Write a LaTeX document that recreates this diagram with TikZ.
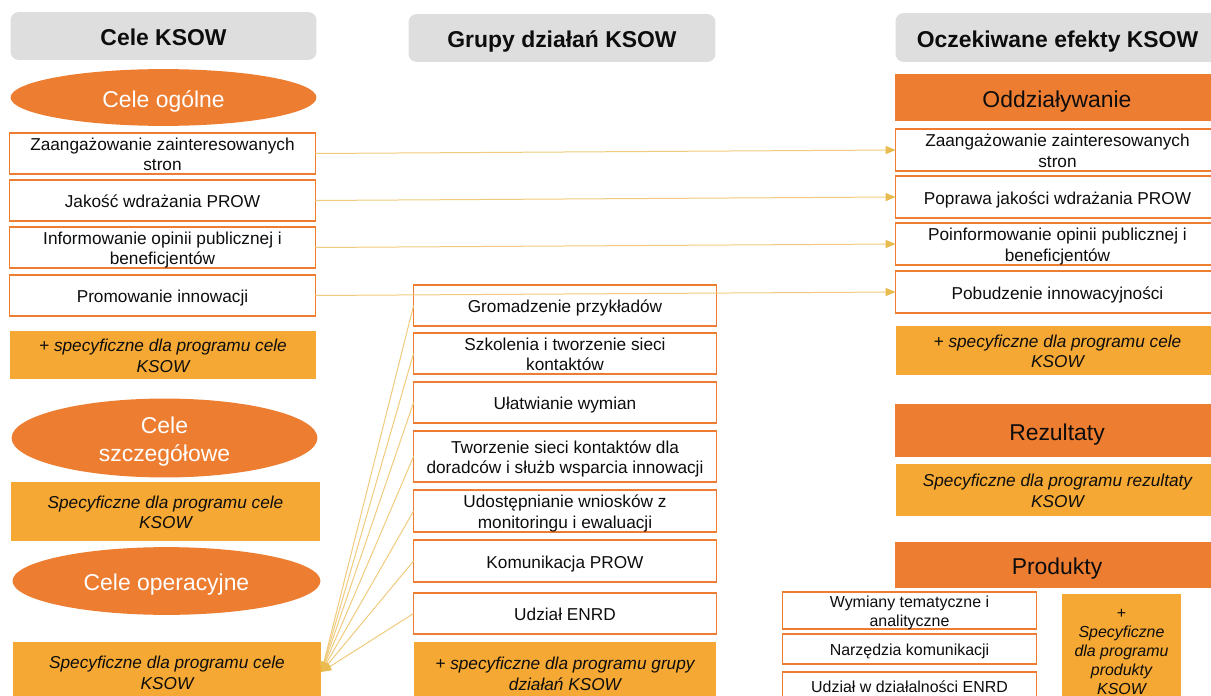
\documentclass[tikz,border=0pt]{standalone}
\usepackage{fontspec}
\setmainfont{Liberation Sans}
\usetikzlibrary{shapes.geometric,arrows.meta}

\definecolor{hdrgrey}{HTML}{DEDEDE}
\definecolor{darkorange}{HTML}{ED7D31}
\definecolor{lightorange}{HTML}{F5A833}
\definecolor{linkgold}{RGB}{240,203,125}
\definecolor{tipgold}{RGB}{233,186,78}
\definecolor{txt}{HTML}{0D0D0D}

% centred lines on strut-height rows, lowered (keeping the box size) so the
% capitals sit in the middle of the box
\newcommand\cell[1]{\raisebox{-0.18em}[\height][\depth]{\begin{tabular}{@{}c@{}}#1\end{tabular}}}

\tikzset{
  base/.style={inner sep=0pt, outer sep=0pt, text=txt},
  header/.style={base, fill=hdrgrey, rounded corners=8bp,
    font=\bfseries\fontsize{23}{27}\selectfont},
  oval/.style={base, ellipse, fill=darkorange, text=white,
    font=\fontsize{23}{28}\selectfont},
  level/.style={base, fill=darkorange, font=\fontsize{23}{28}\selectfont},
  cellbox/.style={base, draw=darkorange, line width=1.4bp, fill=white,
    font=\fontsize{17.3}{20.5}\selectfont},
  smallbox/.style={base, draw=darkorange, line width=1.4bp, fill=white,
    font=\fontsize{16}{18.5}\selectfont},
  extra/.style={base, fill=lightorange, font=\itshape\fontsize{17.3}{20.5}\selectfont},
  link/.style={draw=linkgold, line width=1bp,
    -{Triangle[length=10bp,width=8bp,color=tipgold]}},
}

\begin{document}
\begin{tikzpicture}[x=1bp,y=-1bp]
\useasboundingbox (0,0) rectangle (1211,696);

% ---------- left column: goals ----------
\node[header, minimum width=307, minimum height=48] (hL) at (163.5,36) {\cell{Cele KSOW}};
\node[oval, minimum width=307, minimum height=57] (eL1) at (163.5,97.5) {\cell{Cele ogólne}};
\node[cellbox, minimum width=307, minimum height=41] (l1) at (162.5,153.5) {\cell{Zaangażowanie zainteresowanych\\stron}};
\node[cellbox, minimum width=307, minimum height=41] (l2) at (162.5,200.5) {\cell{Jakość wdrażania PROW}};
\node[cellbox, minimum width=307, minimum height=41] (l3) at (162.5,247.5) {\cell{Informowanie opinii publicznej i\\beneficjentów}};
\node[cellbox, minimum width=307, minimum height=41] (l4) at (162.5,295.5) {\cell{Promowanie innowacji}};
\node[extra, minimum width=308, minimum height=48] (lo1) at (163,355) {\cell{+ specyficzne dla programu cele\\KSOW}};
\node[oval, minimum width=307, minimum height=72] (eL2) at (164.5,438) {\cell{Cele\\szczegółowe}};
\node[extra, minimum width=311, minimum height=59] (lo2) at (165.5,511.5) {\cell{Specyficzne dla programu cele\\KSOW}};
\node[oval, minimum width=309, minimum height=68] (eL3) at (166.5,581) {\cell{Cele operacyjne}};
\node[extra, minimum width=310, minimum height=60] (lo3) at (167,672) {\cell{Specyficzne dla programu cele\\KSOW}};

% ---------- middle column: groups of actions ----------
\node[header, minimum width=308, minimum height=48] (hM) at (562,38) {\cell{Grupy działań KSOW}};
\node[cellbox, minimum width=304, minimum height=41] (m1) at (565,305.5) {\cell{Gromadzenie przykładów}};
\node[cellbox, minimum width=304, minimum height=41] (m2) at (565,353.5) {\cell{Szkolenia i tworzenie sieci\\kontaktów}};
\node[cellbox, minimum width=304, minimum height=41] (m3) at (565,402.5) {\cell{Ułatwianie wymian}};
\node[cellbox, minimum width=304, minimum height=51] (m4) at (565,456.5) {\cell{Tworzenie sieci kontaktów dla\\doradców i służb wsparcia innowacji}};
\node[cellbox, minimum width=304, minimum height=42] (m5) at (565,511) {\cell{Udostępnianie wniosków z\\monitoringu i ewaluacji}};
\node[cellbox, minimum width=304, minimum height=42] (m6) at (565,561) {\cell{Komunikacja PROW}};
\node[cellbox, minimum width=304, minimum height=41] (m7) at (565,613.5) {\cell{Udział ENRD}};
\node[extra, minimum width=304, minimum height=62] (mo) at (565,673) {\cell{+ specyficzne dla programu grupy\\działań KSOW}};

% ---------- right column: expected effects ----------
\node[header, minimum width=325, minimum height=49] (hR) at (1057.5,37.5) {\cell{Oczekiwane efekty KSOW}};
\node[level, minimum width=326, minimum height=47] (rO) at (1057,97.5) {\cell{Oddziaływanie}};
\node[cellbox, minimum width=325, minimum height=42] (r1) at (1057.5,150) {\cell{Zaangażowanie zainteresowanych\\stron}};
\node[cellbox, minimum width=325, minimum height=42] (r2) at (1057.5,197) {\cell{Poprawa jakości wdrażania PROW}};
\node[cellbox, minimum width=325, minimum height=42] (r3) at (1057.5,244) {\cell{Poinformowanie opinii publicznej i\\beneficjentów}};
\node[cellbox, minimum width=325, minimum height=42] (r4) at (1057.5,292) {\cell{Pobudzenie innowacyjności}};
\node[extra, minimum width=325, minimum height=49] (ro1) at (1057.5,350.5) {\cell{+ specyficzne dla programu cele\\KSOW}};
\node[level, minimum width=326, minimum height=53] (rR) at (1057,430.5) {\cell{Rezultaty}};
\node[extra, minimum width=325, minimum height=52] (ro2) at (1057.5,490) {\cell{Specyficzne dla programu rezultaty\\KSOW}};
\node[level, minimum width=326, minimum height=46] (rP) at (1057,565) {\cell{Produkty}};
\node[smallbox, minimum width=255, minimum height=33] (p1) at (909.5,610.5) {\cell{Wymiany tematyczne i\\analityczne}};
\node[smallbox, minimum width=255, minimum height=30] (p2) at (909.5,649) {\cell{Narzędzia komunikacji}};
\node[smallbox, minimum width=255, minimum height=28] (p3) at (909.5,686) {\cell{Udział w działalności ENRD}};
\node[extra, minimum width=119, minimum height=112, font=\itshape\fontsize{16}{19}\selectfont] (po) at (1121.5,650)
  {\cell{\upshape+\\Specyficzne\\dla programu\\produkty\\KSOW}};

% ---------- links: general goals to impacts ----------
\draw[link] (l1.east) -- (r1.west);
\draw[link] (l2.east) -- (r2.west);
\draw[link] (l3.east) -- (r3.west);
\draw[link] (l4.east) -- (r4.west);

% ---------- links: action groups to operational goals ----------
\foreach \m in {m1,m2,m3,m4,m5,m6,m7}
  \draw[link] (\m.west) -- (lo3.east);
\end{tikzpicture}
\end{document}
